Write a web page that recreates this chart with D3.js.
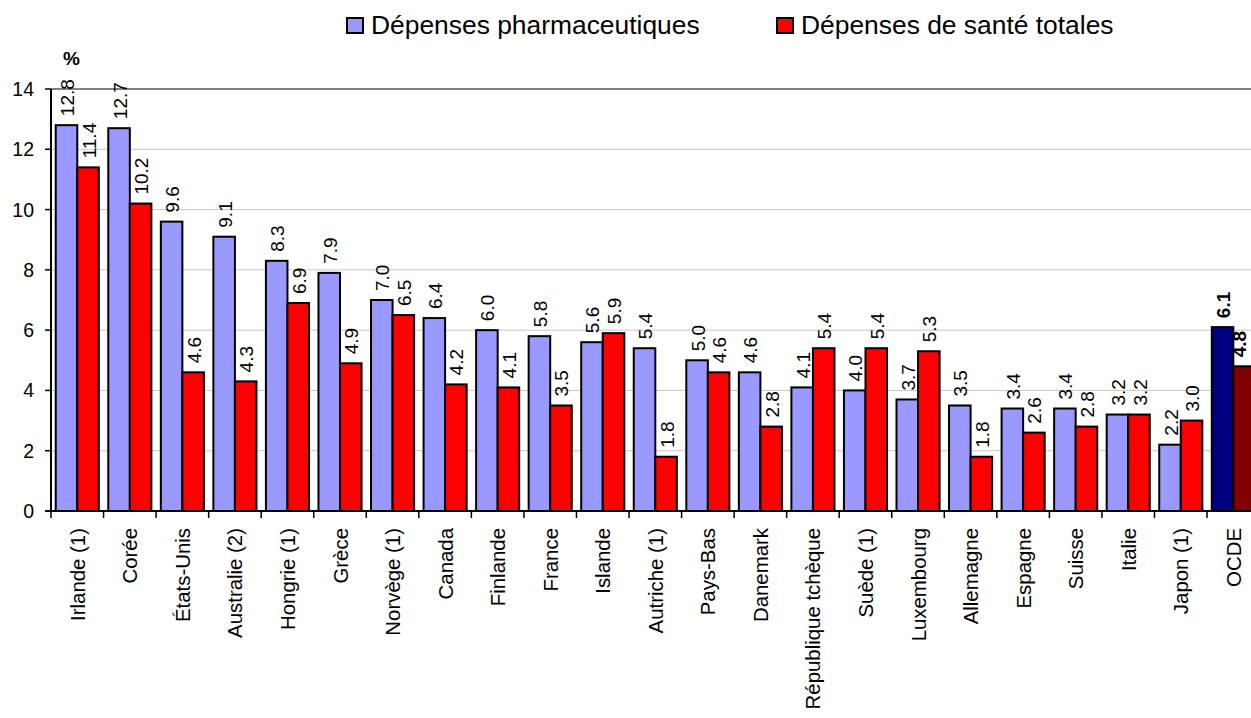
<!DOCTYPE html>
<html>
<head>
<meta charset="utf-8">
<script src="https://cdn.jsdelivr.net/npm/d3@7"></script>
<style>
  body { margin: 0; background: #fff; }
  svg { font-family: Arial, "Liberation Sans", sans-serif; display: block; }
</style>
</head>
<body>
<div id="chart"></div>
<script>
var countries = ["Irlande (1)", "Corée", "États-Unis", "Australie (2)", "Hongrie (1)", "Grèce",
    "Norvège (1)", "Canada", "Finlande", "France", "Islande", "Autriche (1)", "Pays-Bas",
    "Danemark", "République tchèque", "Suède (1)", "Luxembourg", "Allemagne", "Espagne",
    "Suisse", "Italie", "Japon (1)", "OCDE"];
var pharma = [12.8, 12.7, 9.6, 9.1, 8.3, 7.9, 7.0, 6.4, 6.0, 5.8, 5.6, 5.4, 5.0, 4.6, 4.1, 4.0, 3.7, 3.5, 3.4, 3.4, 3.2, 2.2, 6.1];
var total = [11.4, 10.2, 4.6, 4.3, 6.9, 4.9, 6.5, 4.2, 4.1, 3.5, 5.9, 1.8, 4.6, 2.8, 5.4, 5.4, 5.3, 1.8, 2.6, 2.8, 3.2, 3.0, 4.8];
var seriesNames = ["Dépenses pharmaceutiques", "Dépenses de santé totales"];
var yTicks = [0, 2, 4, 6, 8, 10, 12, 14];

var width = 1251, height = 718;
var colors = ["#9999ff", "#ff0000"];
var avgColors = ["#000080", "#800000"];

var svg = d3.select("#chart").append("svg")
    .attr("width", width)
    .attr("height", height);

var x0 = d3.scaleBand().domain(countries).range([51, 1259.6]).padding(0);
var x1 = d3.scaleBand().domain([0, 1])
    .range([x0.bandwidth() * 0.09, x0.bandwidth() * 0.91]);
var y = d3.scaleLinear().domain([0, 14]).range([511, 89]);

// grid lines
svg.append("g")
    .selectAll("line")
    .data(yTicks.filter(function(t) { return t > 0; }))
    .enter().append("line")
    .attr("x1", 51).attr("x2", width)
    .attr("y1", function(d) { return y(d); })
    .attr("y2", function(d) { return y(d); })
    .attr("stroke", function(d) { return d == 14 ? "#808080" : "#c8c8c8"; })
    .attr("stroke-width", function(d) { return d == 14 ? 2 : 1; });

// bars
var rows = countries.map(function(c, i) { return { c: c, i: i, v: [pharma[i], total[i]] }; });
var groups = svg.append("g").selectAll("g")
    .data(rows)
    .enter().append("g")
    .attr("transform", function(d) { return "translate(" + x0(d.c) + ",0)"; });

groups.selectAll("rect")
    .data(function(d) { return d.v.map(function(v, k) { return { k: k, v: v, avg: d.c == "OCDE" }; }); })
    .enter().append("rect")
    .attr("x", function(d) { return x1(d.k); })
    .attr("y", function(d) { return y(d.v); })
    .attr("width", x1.bandwidth())
    .attr("height", function(d) { return y(0) - y(d.v); })
    .attr("fill", function(d) { return d.avg ? avgColors[d.k] : colors[d.k]; })
    .attr("stroke", "#000")
    .attr("stroke-width", 2);

groups.selectAll("text")
    .data(function(d) { return d.v.map(function(v, k) { return { k: k, v: v, avg: d.c == "OCDE", left: x0(d.c) }; }); })
    .enter().append("text")
    .attr("transform", function(d) {
        var bx = x1(d.k) + x1.bandwidth() / 2 + 7.5;
        // keep the last label inside the picture
        bx = Math.min(bx, width - 5 - d.left);
        return "translate(" + bx + "," + (y(d.v) - 9) + ")rotate(-90)";
    })
    .attr("font-size", "19px")
    .attr("font-weight", function(d) { return d.avg ? "bold" : "normal"; })
    .text(function(d) { return d.v.toFixed(1); });

// axes
var yAxis = svg.append("g");
yAxis.append("line")
    .attr("x1", 51).attr("x2", 51).attr("y1", 89).attr("y2", 511)
    .attr("stroke", "#000").attr("stroke-width", 2);
yAxis.selectAll(".tk")
    .data(yTicks).enter().append("line")
    .attr("x1", 45).attr("x2", 51)
    .attr("y1", function(d) { return y(d); }).attr("y2", function(d) { return y(d); })
    .attr("stroke", "#000").attr("stroke-width", 1.5);
yAxis.selectAll("text")
    .data(yTicks).enter().append("text")
    .attr("x", 34)
    .attr("y", function(d) { return y(d) + 7; })
    .attr("text-anchor", "end")
    .attr("font-size", "19.5px")
    .text(function(d) { return d; });

var xAxis = svg.append("g");
xAxis.append("line")
    .attr("x1", 45).attr("x2", width).attr("y1", 511).attr("y2", 511)
    .attr("stroke", "#000").attr("stroke-width", 2);
xAxis.selectAll(".tk")
    .data(countries).enter().append("line")
    .attr("x1", function(d) { return x0(d); }).attr("x2", function(d) { return x0(d); })
    .attr("y1", 511).attr("y2", 518)
    .attr("stroke", "#000").attr("stroke-width", 1.5);
xAxis.selectAll("text")
    .data(countries).enter().append("text")
    .attr("transform", function(d) {
        return "translate(" + (x0(d) + x0.bandwidth() / 2 + 7.5) + ",528)rotate(-90)";
    })
    .attr("text-anchor", "end")
    .attr("font-size", "20.4px")
    .text(function(d) { return d; });

svg.append("text")
    .attr("x", 63).attr("y", 65)
    .attr("font-size", "19px")
    .attr("font-weight", "bold")
    .text("%");

// legend
var legendX = [347, 777];
var legend = svg.append("g").selectAll("g")
    .data(seriesNames)
    .enter().append("g")
    .attr("transform", function(d, i) { return "translate(" + legendX[i] + ",18)"; });
legend.append("rect")
    .attr("width", 16).attr("height", 15)
    .attr("fill", function(d, i) { return colors[i]; })
    .attr("stroke", "#000").attr("stroke-width", 2);
legend.append("text")
    .attr("x", 24).attr("y", 15.5)
    .attr("font-size", "26.4px")
    .text(function(d) { return d; });
</script>
</body>
</html>
